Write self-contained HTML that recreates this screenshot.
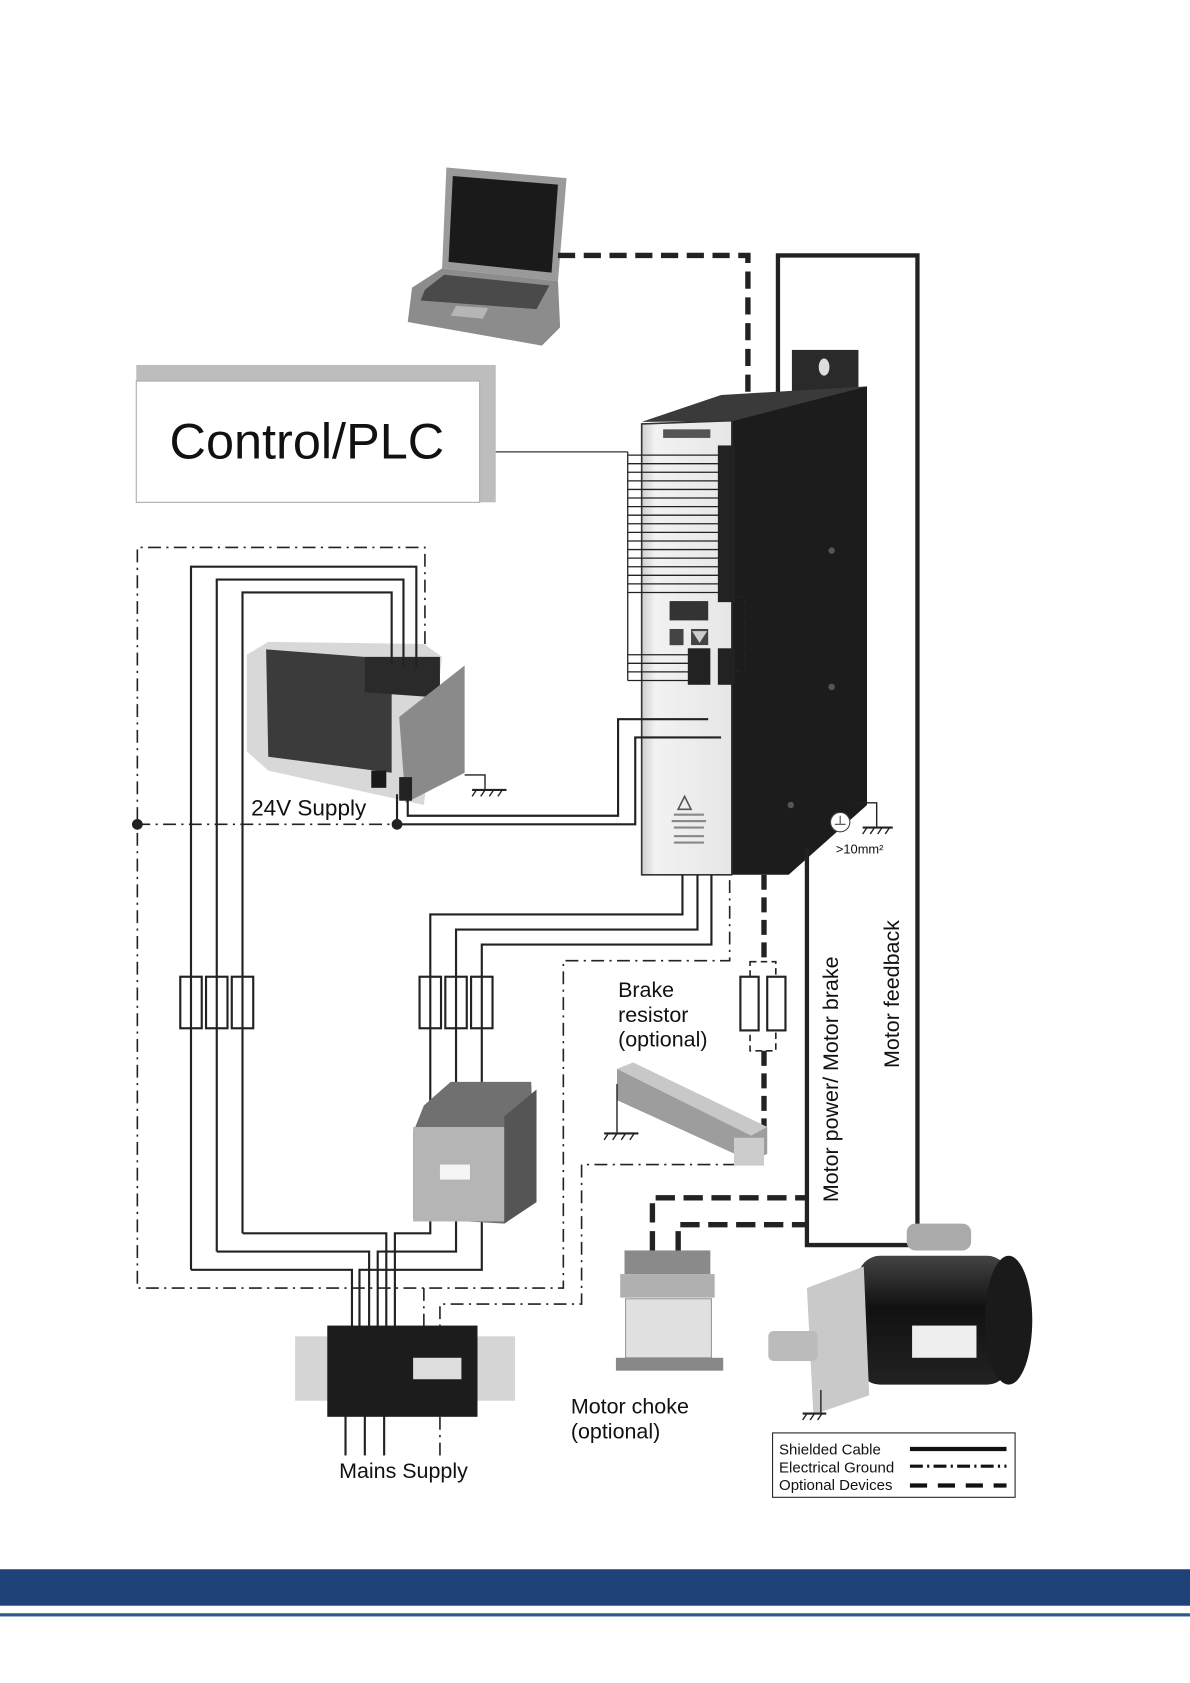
<!DOCTYPE html>
<html><head><meta charset="utf-8"><style>
html,body{margin:0;padding:0;background:#fff}
svg{display:block}
text{font-family:"Liberation Sans",Arial,sans-serif;fill:#111}
</style></head><body>
<svg width="1190" height="1683" viewBox="0 0 1109 1568" preserveAspectRatio="none" xmlns="http://www.w3.org/2000/svg">
<defs>
<linearGradient id="front" x1="0" x2="1"><stop offset="0" stop-color="#cfcfcf"/><stop offset="0.15" stop-color="#f2f2f2"/><stop offset="1" stop-color="#e6e6e6"/></linearGradient>
<linearGradient id="motor" x1="0" y1="0" x2="0" y2="1"><stop offset="0" stop-color="#444"/><stop offset="0.4" stop-color="#111"/><stop offset="1" stop-color="#222"/></linearGradient>
</defs>
<rect width="1109" height="1568" fill="#fff"/>

<!-- Laptop -->
<polygon points="416,156 528,166 520,262 412,250" fill="#9a9a9a"/>
<polygon points="422,164 520,172 514,254 418,244" fill="#1a1a1a"/>
<polygon points="384,268 412,250 520,262 522,305 505,322 380,300" fill="#8c8c8c"/>
<polygon points="396,270 414,256 512,266 500,288 392,280" fill="#4a4a4a"/>
<polygon points="425,285 455,287 450,297 420,294" fill="#b5b5b5"/>

<polyline points="520,238 697,238 697,392" fill="none" stroke="#222" stroke-width="5" stroke-dasharray="16,8"/>
<polyline points="725,392 725,238 855,238 855,1150" fill="none" stroke="#222" stroke-width="4"/>

<rect x="127" y="340" width="335" height="128" fill="#bdbdbd"/>
<rect x="127" y="355" width="320" height="113" fill="#fff" stroke="#aaa" stroke-width="1"/>
<text x="158" y="427" font-size="47">Control/PLC</text>
<line x1="462" y1="421" x2="585" y2="421" stroke="#333" stroke-width="1.2"/>

<!-- Drive -->
<rect x="738" y="326" width="62" height="40" fill="#2a2a2a"/>
<ellipse cx="768" cy="342" rx="5" ry="8" fill="#ddd"/>
<polygon points="598,393 672,368 808,360 740,392" fill="#3a3a3a"/>
<polygon points="680,393 808,360 808,750 735,815 680,815" fill="#1c1c1c"/>
<polygon points="598,395 682,392 682,815 598,815" fill="url(#front)" stroke="#333" stroke-width="1.5"/>
<rect x="618" y="400" width="44" height="8" fill="#555"/>
<circle cx="775" cy="513" r="3" fill="#555"/><circle cx="775" cy="640" r="3" fill="#555"/><circle cx="737" cy="750" r="3" fill="#555"/>
<rect x="669" y="415" width="16" height="146" fill="#222"/>
<g stroke="#222" stroke-width="1.2">
<line x1="585" y1="421" x2="585" y2="634"/>
<line x1="585" y1="424" x2="670" y2="424"/><line x1="585" y1="432" x2="670" y2="432"/>
<line x1="585" y1="440" x2="670" y2="440"/><line x1="585" y1="448" x2="670" y2="448"/>
<line x1="585" y1="456" x2="670" y2="456"/><line x1="585" y1="464" x2="670" y2="464"/>
<line x1="585" y1="472" x2="670" y2="472"/><line x1="585" y1="480" x2="670" y2="480"/>
<line x1="585" y1="488" x2="670" y2="488"/><line x1="585" y1="496" x2="670" y2="496"/>
<line x1="585" y1="504" x2="670" y2="504"/><line x1="585" y1="512" x2="670" y2="512"/>
<line x1="585" y1="520" x2="670" y2="520"/><line x1="585" y1="528" x2="670" y2="528"/>
<line x1="585" y1="536" x2="670" y2="536"/><line x1="585" y1="544" x2="670" y2="544"/>
<line x1="585" y1="552" x2="670" y2="552"/>
<line x1="585" y1="610" x2="650" y2="610"/><line x1="585" y1="618" x2="650" y2="618"/>
<line x1="585" y1="626" x2="650" y2="626"/><line x1="585" y1="634" x2="650" y2="634"/>
</g>
<rect x="624" y="560" width="36" height="18" fill="#333"/>
<polygon points="624,601 636,601 630,587" fill="#333"/><rect x="624" y="586" width="13" height="15" fill="#444"/>
<rect x="644" y="586" width="16" height="15" fill="#444"/><polygon points="645,588 659,588 652,599" fill="#ccc"/>
<rect x="641" y="604" width="21" height="34" fill="#222"/>
<rect x="669" y="604" width="16" height="34" fill="#222"/>
<polyline points="686,556 694,556 694,625 686,625" fill="none" stroke="#222" stroke-width="1.5" stroke-dasharray="6,4"/>
<polygon points="638,742 632,754 644,754" fill="none" stroke="#555" stroke-width="1.5"/>
<g fill="#888"><rect x="628" y="758" width="28" height="2"/><rect x="626" y="764" width="32" height="2"/><rect x="628" y="770" width="28" height="2"/><rect x="628" y="778" width="28" height="2"/><rect x="628" y="784" width="28" height="2"/></g>

<polyline points="795,748 817,748 817,770" fill="none" stroke="#222" stroke-width="1.3"/>
<line x1="804" y1="771" x2="832" y2="771" stroke="#222" stroke-width="2"/>
<g stroke="#222" stroke-width="1.3"><line x1="808" y1="771" x2="804" y2="777"/><line x1="815" y1="771" x2="811" y2="777"/><line x1="822" y1="771" x2="818" y2="777"/><line x1="829" y1="771" x2="825" y2="777"/></g>
<circle cx="783" cy="766" r="9" fill="#fff" stroke="#444" stroke-width="1"/>
<line x1="778" y1="768" x2="788" y2="768" stroke="#444"/><line x1="783" y1="760" x2="783" y2="768" stroke="#444"/>
<text x="779" y="795" font-size="12">&gt;10mm²</text>

<g fill="none" stroke="#222" stroke-width="1.5" stroke-dasharray="12,5,2,5">
<polyline points="396,600 396,510 128,510 128,1200 525,1200 525,895 680,895 680,815"/>
<line x1="128" y1="768" x2="370" y2="768"/>
<polyline points="686,1085 542,1085 542,1215 410,1215 410,1240"/>
<line x1="395" y1="1200" x2="395" y2="1240"/>
<line x1="410" y1="1320" x2="410" y2="1358"/>
</g>
<circle cx="128" cy="768" r="5" fill="#222"/>
<circle cx="370" cy="768" r="5" fill="#222"/>

<polygon points="230,610 250,598 395,600 412,612 395,750 250,718 230,700" fill="#d8d8d8"/>
<polygon points="248,605 365,614 365,720 250,705" fill="#3b3b3b"/>
<polygon points="340,612 410,612 410,650 340,645" fill="#2a2a2a"/>
<polygon points="372,668 433,620 433,720 378,748" fill="#8a8a8a"/>
<rect x="346" y="718" width="14" height="16" fill="#1a1a1a"/>
<rect x="372" y="724" width="12" height="22" fill="#222"/>
<text x="234" y="760" font-size="21">24V Supply</text>
<polyline points="433,722 452,722 452,735" fill="none" stroke="#222" stroke-width="1.3"/>
<line x1="440" y1="736" x2="472" y2="736" stroke="#222" stroke-width="2"/>
<g stroke="#222" stroke-width="1.3"><line x1="444" y1="736" x2="440" y2="742"/><line x1="452" y1="736" x2="448" y2="742"/><line x1="460" y1="736" x2="456" y2="742"/><line x1="468" y1="736" x2="464" y2="742"/></g>

<g fill="none" stroke="#222" stroke-width="2">
<polyline points="178,1183 178,528 388,528 388,622"/>
<polyline points="202,1166 202,540 376,540 376,620"/>
<polyline points="226,1149 226,552 365,552 365,618"/>
<polyline points="178,1183 328,1183 328,1240"/>
<polyline points="202,1166 344,1166 344,1240"/>
<polyline points="226,1149 360,1149 360,1240"/>
<polyline points="380,736 380,760 576,760 576,670 660,670"/>
<polyline points="370,740 370,768 592,768 592,687 672,687"/>
<polyline points="636,815 636,852 401,852 401,1060"/>
<polyline points="650,815 650,866 425,866 425,1060"/>
<polyline points="663,815 663,880 449,880 449,1060"/>
<polyline points="401,1120 401,1149 368,1149 368,1240"/>
<polyline points="425,1120 425,1166 352,1166 352,1240"/>
<polyline points="449,1120 449,1183 335,1183 335,1240"/>
<line x1="322" y1="1318" x2="322" y2="1356"/>
<line x1="340" y1="1318" x2="340" y2="1356"/>
<line x1="358" y1="1318" x2="358" y2="1356"/>
</g>
<g fill="#fff" stroke="#222" stroke-width="2">
<rect x="168" y="910" width="20" height="48"/><rect x="192" y="910" width="20" height="48"/><rect x="216" y="910" width="20" height="48"/>
<rect x="391" y="910" width="20" height="48"/><rect x="415" y="910" width="20" height="48"/><rect x="439" y="910" width="20" height="48"/>
</g>
<g stroke="#222" stroke-width="2"><line x1="178" y1="910" x2="178" y2="958"/><line x1="202" y1="910" x2="202" y2="958"/><line x1="226" y1="910" x2="226" y2="958"/><line x1="401" y1="910" x2="401" y2="958"/><line x1="425" y1="910" x2="425" y2="958"/><line x1="449" y1="910" x2="449" y2="958"/></g>

<polygon points="395,1030 420,1008 495,1008 500,1115 470,1140 385,1135 385,1055" fill="#707070"/>
<rect x="385" y="1050" width="85" height="88" fill="#b5b5b5"/>
<rect x="410" y="1085" width="28" height="14" fill="#f5f5f5"/>
<polygon points="470,1040 500,1015 500,1120 470,1140" fill="#555"/>

<line x1="712" y1="815" x2="712" y2="896" stroke="#222" stroke-width="5" stroke-dasharray="14,7"/>
<rect x="699" y="896" width="24" height="83" fill="none" stroke="#222" stroke-width="1.5" stroke-dasharray="6,4"/>
<rect x="690" y="910" width="17" height="50" fill="#fff" stroke="#222" stroke-width="2"/>
<rect x="715" y="910" width="17" height="50" fill="#fff" stroke="#222" stroke-width="2"/>
<line x1="712" y1="979" x2="712" y2="1065" stroke="#222" stroke-width="5" stroke-dasharray="14,7"/>
<text font-size="20"><tspan x="576" y="929">Brake</tspan><tspan x="576" y="952">resistor</tspan><tspan x="576" y="975">(optional)</tspan></text>
<polygon points="575,996 590,990 715,1050 715,1075 700,1082 575,1025" fill="#9d9d9d"/>
<polygon points="575,996 590,990 715,1050 700,1058" fill="#c8c8c8"/>
<rect x="684" y="1060" width="28" height="26" fill="#ccc"/>
<polyline points="575,1010 575,1055" fill="none" stroke="#222" stroke-width="1.3"/>
<line x1="563" y1="1056" x2="595" y2="1056" stroke="#222" stroke-width="2"/>
<g stroke="#222" stroke-width="1.3"><line x1="567" y1="1056" x2="563" y2="1062"/><line x1="575" y1="1056" x2="571" y2="1062"/><line x1="583" y1="1056" x2="579" y2="1062"/><line x1="591" y1="1056" x2="587" y2="1062"/></g>

<polyline points="752,790 752,1160 852,1160" fill="none" stroke="#222" stroke-width="4"/>
<polyline points="608,1165 608,1116 752,1116" fill="none" stroke="#222" stroke-width="5" stroke-dasharray="18,8"/>
<polyline points="632,1165 632,1141 752,1141" fill="none" stroke="#222" stroke-width="5" stroke-dasharray="18,8"/>

<rect x="582" y="1165" width="80" height="22" fill="#8a8a8a"/>
<rect x="578" y="1187" width="88" height="22" fill="#b0b0b0"/>
<rect x="583" y="1210" width="80" height="55" fill="#e0e0e0" stroke="#999"/>
<rect x="574" y="1265" width="100" height="12" fill="#888"/>
<text font-size="20"><tspan x="532" y="1317">Motor choke</tspan><tspan x="532" y="1340">(optional)</tspan></text>

<rect x="800" y="1170" width="140" height="120" rx="20" fill="url(#motor)"/>
<ellipse cx="940" cy="1230" rx="22" ry="60" fill="#1a1a1a"/>
<polygon points="752,1200 805,1180 810,1300 758,1318" fill="#c9c9c9"/>
<rect x="716" y="1240" width="46" height="28" rx="5" fill="#bbb"/>
<rect x="850" y="1235" width="60" height="30" fill="#eee"/>
<rect x="845" y="1140" width="60" height="25" rx="8" fill="#aaa"/>
<polyline points="765,1295 765,1316" fill="none" stroke="#222" stroke-width="1.3"/>
<line x1="748" y1="1317" x2="770" y2="1317" stroke="#222" stroke-width="2"/>
<g stroke="#222" stroke-width="1.3"><line x1="752" y1="1317" x2="748" y2="1323"/><line x1="759" y1="1317" x2="755" y2="1323"/><line x1="766" y1="1317" x2="762" y2="1323"/></g>

<text transform="translate(781,1120) rotate(-90)" font-size="20">Motor power/ Motor brake</text>
<text transform="translate(838,995) rotate(-90)" font-size="20">Motor feedback</text>

<rect x="275" y="1245" width="205" height="60" fill="#d5d5d5"/>
<rect x="305" y="1235" width="140" height="85" fill="#1c1c1c"/>
<rect x="385" y="1265" width="45" height="20" fill="#ddd"/>
<text x="316" y="1377" font-size="20">Mains Supply</text>

<rect x="720" y="1335" width="226" height="60" fill="#fff" stroke="#222" stroke-width="1"/>
<text font-size="14"><tspan x="726" y="1355">Shielded Cable</tspan><tspan x="726" y="1372">Electrical Ground</tspan><tspan x="726" y="1388">Optional Devices</tspan></text>
<line x1="848" y1="1350" x2="938" y2="1350" stroke="#111" stroke-width="4"/>
<line x1="848" y1="1366" x2="938" y2="1366" stroke="#111" stroke-width="3" stroke-dasharray="12,4,2,4"/>
<line x1="848" y1="1384" x2="938" y2="1384" stroke="#111" stroke-width="4" stroke-dasharray="16,10"/>

<rect x="0" y="1462" width="1109" height="34" fill="#1f4379"/>
<rect x="0" y="1503" width="1109" height="3" fill="#2b5c8c"/>
</svg>
</body></html>
